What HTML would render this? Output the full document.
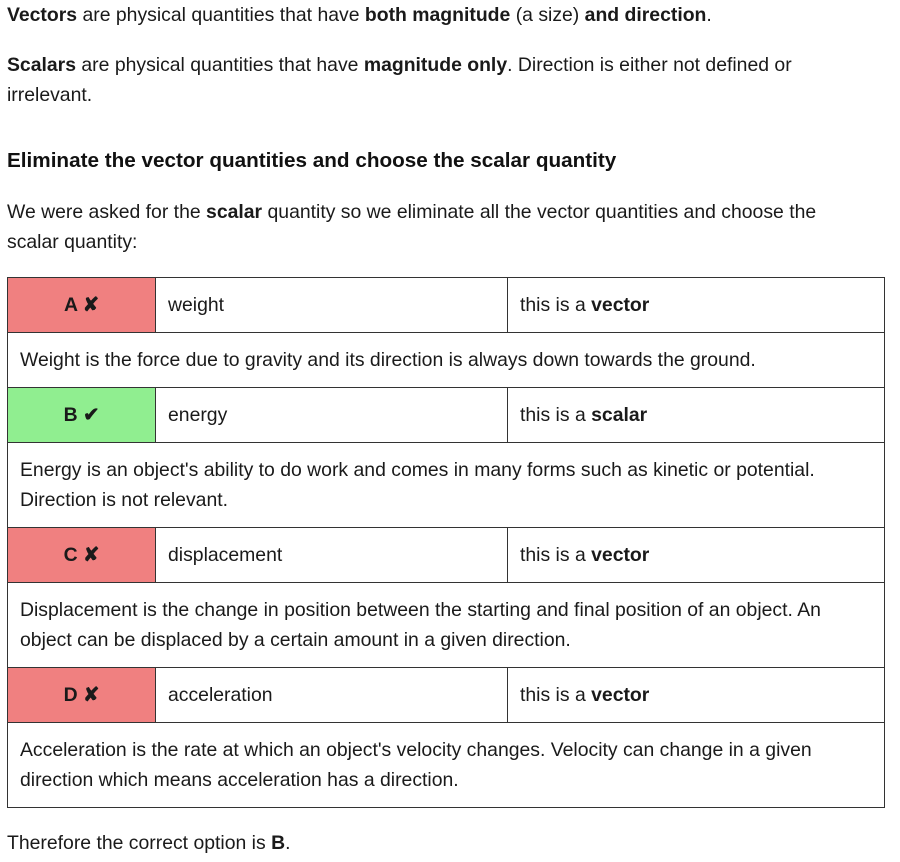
<!DOCTYPE html>
<html>
<head>
<meta charset="utf-8">
<style>
  html,body{margin:0;padding:0;background:#fff;}
  body{width:900px;height:862px;position:relative;overflow:hidden;
       font-family:"Liberation Sans",Arial,sans-serif;font-size:19.4px;color:#1a1a1a;}
  .p{position:absolute;left:7px;line-height:30px;margin:0;width:890px;white-space:nowrap;}
  h3{position:absolute;left:7px;top:146px;margin:0;font-size:20.7px;line-height:30px;color:#111;white-space:nowrap;}
  table{position:absolute;left:7px;top:277px;width:877px;border-collapse:collapse;table-layout:fixed;}
  td{border:1px solid #333;padding:0 12px;line-height:30px;vertical-align:middle;white-space:nowrap;}
  tr.h td{height:54px;}
  tr.e1 td{height:54px;}
  tr.e2 td{height:84px;}
  td.l{text-align:center;font-weight:bold;}
  .red{background:#f08080;}
  .green{background:#90ee90;}
</style>
</head>
<body>
<p class="p" style="top:0px"><b>Vectors</b> are physical quantities that have <b>both magnitude</b> (a size) <b>and direction</b>.</p>
<p class="p" style="top:50px"><b>Scalars</b> are physical quantities that have <b>magnitude only</b>. Direction is either not defined or<br>irrelevant.</p>
<h3>Eliminate the vector quantities and choose the scalar quantity</h3>
<p class="p" style="top:197px">We were asked for the <b>scalar</b> quantity so we eliminate all the vector quantities and choose the<br>scalar quantity:</p>
<table>
  <colgroup><col style="width:148px"><col style="width:352px"><col style="width:377px"></colgroup>
  <tr class="h">
    <td class="l red">A ✘</td>
    <td>weight</td>
    <td>this is a <b>vector</b></td>
  </tr>
  <tr class="e1"><td colspan="3">Weight is the force due to gravity and its direction is always down towards the ground.</td></tr>
  <tr class="h">
    <td class="l green">B ✔</td>
    <td>energy</td>
    <td>this is a <b>scalar</b></td>
  </tr>
  <tr class="e2"><td colspan="3">Energy is an object's ability to do work and comes in many forms such as kinetic or potential.<br>Direction is not relevant.</td></tr>
  <tr class="h">
    <td class="l red">C ✘</td>
    <td>displacement</td>
    <td>this is a <b>vector</b></td>
  </tr>
  <tr class="e2"><td colspan="3">Displacement is the change in position between the starting and final position of an object. An<br>object can be displaced by a certain amount in a given direction.</td></tr>
  <tr class="h">
    <td class="l red">D ✘</td>
    <td>acceleration</td>
    <td>this is a <b>vector</b></td>
  </tr>
  <tr class="e2"><td colspan="3">Acceleration is the rate at which an object's velocity changes. Velocity can change in a given<br>direction which means acceleration has a direction.</td></tr>
</table>
<p class="p" style="top:828px">Therefore the correct option is <b>B</b>.</p>
</body>
</html>
